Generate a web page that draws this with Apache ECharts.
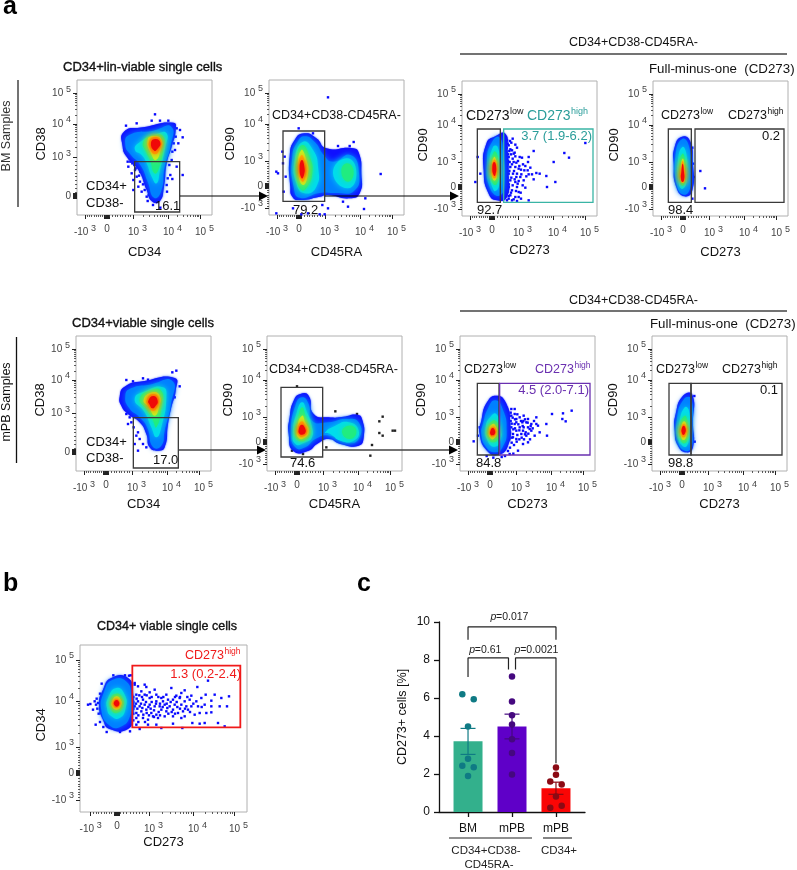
<!DOCTYPE html>
<html><head><meta charset="utf-8">
<style>html,body{margin:0;padding:0;background:#fff}#c{width:797px;height:870px}</style>
<script src="https://cdn.jsdelivr.net/npm/echarts@6/dist/echarts.min.js"></script>
</head><body><div id="c"></div>
<script>
// ---------- Flow data: channel scale 0-405 (panel b 0-501), contour level 0 (sparse) .. 6 (peak) ----------
const densityPalette = ['#1010ff','#0080ff','#00dcec','#20ec80','#c4f020','#ffa800','#f00808'];

const a1Contours = [
 [0,[[141,250],[199,263],[289,277],[296,255],[284,205],[269,155],[261,85],[247,40],[224,42],[209,75],[184,135],[149,175],[137,205]]],
 [1,[[156,240],[229,253],[283,265],[280,205],[263,145],[252,70],[231,52],[212,100],[190,150],[160,182],[145,210]]],
 [2,[[184,215],[239,243],[269,245],[264,200],[249,135],[239,95],[224,115],[209,155],[194,180],[174,195]]],
 [3,[[199,220],[234,240],[259,235],[259,200],[244,135],[232,125],[219,165],[209,185]]],
 [4,[[212,225],[234,237],[254,225],[251,195],[237,165],[224,180]]],
 [5,[[217,222],[234,234],[252,222],[248,198],[234,182],[220,198]]],
 [6,[[222,217],[236,228],[250,217],[243,200],[232,193]]]
];
const a1Events = [[154,145],[164,125],[169,105],[174,135],[179,115],[184,85],[189,100],[194,70],[199,125],[209,55],[169,75],[299,260],[309,255],[317,233],[304,215],[294,195],[284,165],[299,145],[317,120],[286,108],[234,302],[224,283],[249,283],[274,283],[147,268],[179,275],[160,160],[172,150],[182,150],[190,130],[205,100],[215,60],[228,30],[250,22],[270,70],[280,120],[158,170],[152,160],[166,155],[176,140],[186,118],[198,92],[203,75],[212,42],[296,235],[290,215],[286,190],[277,150],[272,110],[269,90]];

const a2Contours = [
 [0,[[64,85],[62,175],[77,225],[107,245],[142,230],[172,200],[252,200],[270,185],[277,125],[272,65],[242,50],[177,60],[152,55],[92,45],[70,55]]],
 [1,[[74,85],[70,175],[85,218],[107,236],[138,218],[164,180],[192,160],[245,180],[270,125],[255,72],[202,66],[152,66],[92,52]]],
 [2,[[82,95],[77,165],[102,220],[132,195],[147,145],[142,85],[107,65]]],
 [2,[[192,125],[232,170],[262,130],[237,80]]],
 [3,[[84,105],[82,165],[100,210],[122,175],[130,125],[112,80],[97,75]]],
 [3,[[217,130],[234,155],[254,130],[237,100]]],
 [4,[[87,135],[97,195],[112,165],[117,125],[102,90]]],
 [5,[[89,140],[98,180],[109,150],[110,120],[100,100]]],
 [6,[[92,145],[99,165],[106,145],[105,120],[98,110]]]
];
const a2Events = [[177,353],[89,260],[22,130],[27,125],[40,190],[47,175],[42,155],[50,115],[44,70],[132,245],[207,207],[242,207],[254,219],[335,123],[289,50],[285,18],[222,40],[237,25],[177,20],[160,30],[117,5],[72,20],[97,2],[152,2],[167,2],[22,5]];

const a3Contours = [
 [0,[[73,217],[100,239],[130,247],[137,197],[140,127],[135,57],[105,47],[80,67],[65,137]]],
 [1,[[75,167],[90,222],[112,236],[124,187],[128,107],[115,62],[85,82]]],
 [2,[[83,147],[93,207],[107,207],[113,147],[110,87],[95,77]]],
 [3,[[85,137],[95,192],[105,187],[109,137],[105,97],[93,97]]],
 [4,[[89,142],[96,177],[104,162],[105,127],[100,107],[92,112]]],
 [5,[[90,145],[96,169],[103,157],[102,117],[94,115]]],
 [6,[[91,147],[96,162],[102,152],[100,122],[95,122]]]
];
const a3Events = [[160,214],[165,205],[140,212],[150,197],[160,179],[140,177],[155,162],[145,147],[160,147],[140,127],[153,127],[165,127],[145,107],[160,102],[140,87],[150,77],[165,87],[145,62],[160,57],[140,52],[135,227],[137,157],[173,177],[180,175],[200,177],[215,195],[198,162],[177,139],[187,137],[197,137],[200,125],[193,119],[185,107],[210,125],[223,129],[233,127],[253,120],[255,87],[275,162],[307,189],[321,175],[370,219],[280,102],[177,52],[200,47],[170,57],[150,47],[135,47],[47,177],[40,102],[55,127],[167,97],[175,117],[163,117],[137,217],[155,187],[143,162],[137,97],[170,142],[134,205],[142,195],[148,220],[152,172],[147,185],[138,165],[158,190],[135,150],[150,155],[163,160],[142,135],[156,135],[136,115],[148,115],[158,110],[170,105],[140,95],[152,92],[162,75],[136,72],[147,70],[170,72],[155,50],[138,185],[144,225],[152,232],[132,235],[168,165],[172,150],[178,125],[182,92],[176,70],[190,85],[140,60],[165,45],[183,155],[205,145],[215,110],[190,150],[145,200]];

const a4Contours = [
 [0,[[65,207],[85,237],[110,227],[120,157],[118,77],[95,59],[70,87],[62,157]]],
 [1,[[68,187],[88,231],[107,212],[114,137],[112,85],[92,64],[72,92]]],
 [2,[[75,167],[88,207],[100,187],[102,127],[98,92],[85,82],[76,107]]],
 [3,[[78,147],[88,187],[97,167],[98,117],[92,92],[82,97]]],
 [4,[[82,137],[89,172],[95,147],[96,112],[90,99],[83,107]]],
 [5,[[83,132],[89,165],[94,137],[95,109],[89,100],[83,109]]],
 [6,[[85,132],[89,157],[93,132],[93,107],[88,102],[84,112]]]
];
const a4Events = [[142,135],[156,83],[118,205],[118,52],[120,157],[122,117]];

const a5Contours = [
 [0,[[131,223],[146,253],[201,269],[296,279],[299,241],[286,191],[276,141],[266,71],[246,61],[221,71],[211,111],[191,146],[156,171],[136,196]]],
 [1,[[148,225],[165,248],[221,259],[289,270],[285,201],[266,121],[256,76],[231,72],[214,130],[192,160],[160,188]]],
 [2,[[176,216],[211,241],[261,251],[271,221],[256,131],[241,101],[226,131],[206,176]]],
 [3,[[191,216],[221,241],[256,241],[256,191],[241,131],[229,156],[211,186]]],
 [4,[[203,213],[229,236],[251,226],[249,191],[236,166],[219,191]]],
 [5,[[212,213],[231,231],[248,218],[243,191],[231,180],[217,196]]],
 [6,[[217,211],[232,225],[245,211],[238,194],[229,188],[221,199]]]
];
const a5Events = [[151,273],[171,269],[201,278],[216,274],[151,171],[161,161],[156,141],[166,146],[173,131],[186,116],[181,106],[191,96],[176,81],[201,81],[186,61],[211,71],[301,301],[289,296],[311,254],[296,221],[276,273],[253,274]];

const a6Contours = [
 [0,[[80,211],[100,231],[125,226],[140,171],[185,161],[230,163],[270,169],[285,156],[290,101],[275,76],[220,81],[185,96],[150,81],[125,61],[80,59],[65,111],[68,161]]],
 [1,[[85,196],[105,221],[125,201],[135,151],[185,146],[235,156],[275,146],[275,96],[240,86],[190,106],[145,96],[115,71],[85,71],[73,121]]],
 [2,[[88,171],[105,206],[120,176],[135,131],[135,101],[115,86],[85,81],[78,121]]],
 [2,[[175,116],[205,136],[245,146],[275,121],[260,91],[220,91],[190,111]]],
 [3,[[90,146],[105,191],[118,156],[130,121],[120,96],[95,91],[83,116]]],
 [3,[[225,116],[245,136],[268,121],[250,96]]],
 [4,[[90,126],[105,166],[115,146],[125,121],[115,101],[95,99]]],
 [5,[[92,123],[104,149],[116,131],[120,116],[110,104],[97,106]]],
 [6,[[95,123],[104,139],[115,126],[114,113],[105,109],[98,111]]]
];
const a6Events = [[90,254],[205,179],[270,171],[178,71],[108,51],[75,61],[315,78],[310,46],[337,149],[347,163],[337,114],[347,106],[377,121],[384,121]];

const a7Contours = [
 [0,[[64,151],[81,206],[109,226],[137,206],[151,141],[144,76],[114,49],[81,61],[59,111]]],
 [1,[[69,141],[85,190],[106,212],[128,186],[140,121],[128,72],[106,56],[78,72],[64,111]]],
 [2,[[77,131],[94,166],[109,171],[121,131],[121,91],[104,73],[85,86]]],
 [3,[[81,121],[97,151],[111,146],[116,121],[114,96],[99,86],[86,96]]],
 [4,[[86,121],[98,141],[109,131],[111,116],[106,101],[94,96]]],
 [5,[[89,119],[98,133],[107,126],[107,111],[99,103],[91,106]]],
 [6,[[91,119],[98,129],[105,121],[104,111],[98,107],[92,109]]]
];
const a7Events = [[41,89],[59,131],[54,106],[154,186],[164,186],[154,166],[169,146],[179,161],[191,166],[204,156],[229,161],[214,141],[204,131],[189,121],[169,121],[159,111],[154,131],[164,141],[179,131],[191,131],[209,126],[199,106],[224,106],[239,116],[261,106],[259,141],[276,171],[309,173],[307,156],[317,149],[335,181],[189,81],[204,86],[149,51],[174,61],[159,101],[169,96],[184,111],[197,116],[214,121],[229,141],[234,136],[164,171],[169,156],[199,146],[187,146],[152,150],[158,160],[165,155],[172,170],[160,125],[150,115],[155,100],[165,128],[175,140],[183,150],[190,150],[178,122],[172,108],[185,100],[195,110],[205,112],[212,135],[218,128],[222,150],[195,155],[152,175],[148,95],[155,85],[150,70],[162,78],[170,88],[178,95],[192,95],[210,95],[188,135],[203,145],[155,142],[146,125],[148,165],[144,60],[135,45],[160,52],[125,42],[100,40],[80,45]];

const a8Contours = [
 [0,[[71,171],[93,226],[121,229],[123,141],[123,71],[103,56],[78,76],[68,121]]],
 [1,[[75,156],[96,216],[118,216],[119,121],[118,72],[100,60],[79,86]]],
 [2,[[81,141],[98,191],[111,181],[111,111],[105,76],[91,76],[79,101]]],
 [3,[[83,131],[98,166],[107,146],[108,106],[98,83],[85,96]]],
 [4,[[86,126],[96,149],[105,131],[104,106],[95,93],[87,103]]],
 [5,[[88,126],[95,141],[103,126],[101,109],[94,101],[88,109]]],
 [6,[[89,126],[95,136],[101,126],[99,113],[94,108],[90,113]]]
];
const a8Events = [[127,225],[128,88]];

const bContours = [
 [0,[[69,367],[94,402],[144,402],[159,357],[159,287],[144,249],[89,249],[69,277],[57,322]]],
 [1,[[72,360],[97,396],[138,392],[154,345],[150,287],[122,256],[88,260],[64,305]]],
 [2,[[84,342],[109,372],[134,352],[137,312],[119,282],[94,287],[81,312]]],
 [3,[[91,337],[109,355],[127,342],[129,317],[111,297],[94,307]]],
 [4,[[96,332],[109,347],[123,335],[123,319],[111,307],[97,315]]],
 [5,[[99,330],[109,340],[119,332],[120,320],[110,312],[100,319]]],
 [6,[[102,329],[110,336],[117,330],[117,321],[110,316],[103,321]]]
];
const bEvents = [[24,322],[31,324],[44,332],[39,307],[47,262],[54,327],[62,297],[164,382],[174,377],[194,382],[199,375],[184,362],[169,352],[194,352],[209,359],[224,367],[229,352],[244,342],[259,352],[274,372],[289,349],[304,357],[314,365],[334,349],[352,375],[377,352],[404,352],[424,342],[447,347],[384,394],[364,342],[349,332],[329,337],[314,332],[299,342],[279,337],[264,337],[249,332],[229,332],[209,342],[189,337],[174,332],[164,317],[179,317],[194,322],[209,322],[224,317],[239,317],[254,322],[269,317],[284,322],[304,322],[319,317],[334,317],[354,317],[374,322],[394,317],[419,317],[441,317],[394,334],[169,297],[184,302],[199,307],[214,297],[229,292],[244,307],[259,302],[279,307],[294,297],[309,302],[324,307],[344,292],[359,297],[379,297],[394,299],[169,282],[189,282],[204,277],[219,287],[234,282],[254,287],[279,287],[304,282],[314,287],[169,262],[204,262],[229,262],[279,265],[307,252],[337,267],[359,265],[374,267],[414,267],[434,257],[179,249],[244,252],[147,409],[164,387],[160,345],[170,340],[178,350],[186,345],[200,350],[215,345],[235,345],[250,345],[160,330],[168,325],[183,325],[198,330],[205,315],[215,330],[228,325],[240,325],[260,325],[272,330],[290,330],[160,310],[172,310],[187,312],[200,297],[212,310],[222,305],[236,300],[248,315],[262,312],[275,300],[292,315],[300,310],[315,310],[160,295],[175,290],[190,292],[207,290],[222,285],[240,290],[265,295],[285,295],[160,275],[175,270],[195,270],[300,345],[322,345],[340,325],[365,315],[330,300],[285,345],[50,340],[52,310],[48,322],[56,295],[60,355],[60,270],[65,385],[152,410],[135,410],[100,410],[70,255],[80,240],[120,240],[150,242]];

// gates: [x0, y0, x1, y1] in channel units
const a1Gates = [[173,9,308,160]];
const a2Gates = [[42,41,167,252]];
const a3Gates = [[46,41,115,261],[125,41,393,261]];
const a4Gates = [[46,41,115,261],[126,41,393,261]];
const a5Gates = [[172,9,307,160]];
const a6Gates = [[42,42,167,251]];
const a7Gates = [[52,48,117,263],[119,48,390,263]];
const a8Gates = [[51,48,117,263],[117,48,390,263]];
const bGates  = [[157,254,481,439]];

// biexponential tick positions in channel units: -10^3, 0, 10^3, 10^4, 10^5
const xTickChannels = [24,90,168,273,369];
const yTickChannels = [21,87,162,273,366];
const yTickChannelsCD38 = [null,57,173,273,365];
const bxTickChannels = [32,111,207,339,462];
const byTickChannels = [36,117,195,333,456];
const xTickLabels = ['-10 {s|3}','0','{sp|}10 {s|3}','{sp|}10 {s|4}','{sp|}10 {s|5}'];
const yTickLabels = ['-10 {s|3}','0','10 {s|3}','10 {s|4}','10 {s|5}'];

// ---------- Panel c data ----------
const barCenters = [1,2,3];
const barNames = ['BM','mPB','mPB'];
const barValues = [3.72,4.5,1.25];
const barLow = [3.03,3.85,0.93];
const barHigh = [4.4,5.15,1.57];
const barColors = ['#33b08c','#5f00c8','#fa0505'];
const dotColors = ['#0f7a84','#45087f','#8b0a14'];
const bmDots = [[0.87,6.2],[1.13,5.93],[1,4.5],[1,2.8],[0.87,2.43],[1.13,2.36],[1,1.9]];
const mpbDots = [[2,7.13],[2,5.82],[2,5.09],[2,4.6],[2,3.83],[2,3.11],[2,1.98]];
const cd34Dots = [[3,2.34],[3,1.96],[2.87,1.61],[3.13,1.45],[3,0.82],[2.87,0.23],[3.13,0.33]];
const bracketTop = [[1,9.07],[1,9.74],[3,9.74],[3,9.07]];
const bracketLeft = [[1,7.1],[1,8.11],[1.92,8.11],[1.92,7.5]];
const bracketRight = [[2.08,7.5],[2.08,8.11],[3,8.11],[3,2.57]];

// ---------- Helpers ----------
const FONT = '"Liberation Sans", Arial, Helvetica, sans-serif';
const grid = [], xAxis = [], yAxis = [], series = [], graphic = [];

function axisTicks(p, near){
  const minor = [], major = [];
  const [n,z,e3,e4,e5] = p;
  if (n !== null) for (let k=1;k<10;k++) minor.push(n+(z-n)*k/10);
  for (let k=1;k<10;k++) minor.push(z+(e3-z)*k/10);
  for (let k=2;k<10;k++){ minor.push(e3+(e4-e3)*Math.log10(k)); minor.push(e4+(e5-e4)*Math.log10(k)); }
  p.forEach(v=>{ if(v!==null) major.push(v); });
  for (let k=-near;k<=near;k+=2) major.push(z+k);
  return {minor, major};
}
function flowAxis(ch, labels, max, name, isY, gridIndex, gap){
  const valid = ch.filter(v=>v!==null);
  const t = axisTicks(ch, 7);
  const common = {type:'value', gridIndex, min:0, max, splitLine:{show:false}, axisLine:{show:false}, silent:true, position:isY?'left':'bottom'};
  const main = Object.assign({}, common, {
    name, nameLocation:'middle', nameGap:gap,
    nameTextStyle:{fontFamily:FONT,fontSize:13,color:'#111',padding:isY?[0,0,0,7]:0},
    axisTick:{show:true,length:4,customValues:t.major,lineStyle:{color:'#222',width:1}},
    axisLabel:{show:true,customValues:valid,margin:isY?6:9,fontFamily:FONT,fontSize:10,color:'#444',hideOverlap:false,
      formatter:v=>labels[ch.indexOf(v)],
      rich:{s:{fontFamily:FONT,fontSize:9,color:'#444',padding:[0,0,8,0]},sp:{width:9}}}
  });
  const minor = Object.assign({}, common, {
    axisTick:{show:true,length:2,customValues:t.minor,lineStyle:{color:'#333',width:0.8}},
    axisLabel:{show:false}
  });
  return [main, minor];
}
function flowPlot(rect, scale, xt, yt, xName, yName, xGap, yGap, contours, events, gates, gateColors, dotColor, gateWidth){
  const g = grid.length;
  grid.push({left:rect[0],top:rect[1],width:rect[2],height:rect[3],show:true,borderColor:'#b0b0b0',borderWidth:1,backgroundColor:'#fff'});
  const xi = xAxis.length, yi = yAxis.length;
  flowAxis(xt, xTickLabels, scale, xName, false, g, xGap).forEach(a=>xAxis.push(a));
  flowAxis(yt, yTickLabels, scale, yName, true, g, yGap).forEach(a=>yAxis.push(a));
  series.push({type:'scatter',xAxisIndex:xi,yAxisIndex:yi,data:events,symbol:'rect',symbolSize:2.4,
    itemStyle:{color:dotColor||'#0808ff',opacity:1},silent:true,z:2,animation:false});
  series.push({type:'custom',xAxisIndex:xi,yAxisIndex:yi,z:3,silent:true,animation:false,clip:true,
    data:contours.map(c=>[c[1][0][0],c[1][0][1]]),encode:{x:0,y:1},
    renderItem:(params,api)=>{
      const c = contours[params.dataIndex], col = densityPalette[c[0]];
      return {type:'polygon',shape:{points:c[1].map(p=>api.coord(p)),smooth:0.55},
        style:{fill:col,shadowBlur:c[0]===0?1.5:6,shadowColor:col}};
    }});
  series.push({type:'custom',xAxisIndex:xi,yAxisIndex:yi,z:4,silent:true,animation:false,clip:false,
    data:gates.map(c=>[c[0],c[1]]),encode:{x:0,y:1},
    renderItem:(params,api)=>{
      const r = gates[params.dataIndex];
      const a = api.coord([r[0],r[3]]), b = api.coord([r[2],r[1]]);
      return {type:'rect',shape:{x:a[0],y:a[1],width:b[0]-a[0],height:b[1]-a[1]},
        style:{fill:null,stroke:gateColors[params.dataIndex],lineWidth:gateWidth||1.3}};
    }});
}
function txt(text,x,y,o){ o=o||{};
  graphic.push({type:'text',x,y,rotation:o.rot||0,silent:true,z:20,style:{text,
    fill:o.color||'#111',font:(o.weight?o.weight+' ':'')+(o.italic?'italic ':'')+(o.size||12.5)+'px '+FONT,
    align:o.align||'left',verticalAlign:'middle',stroke:o.stroke?(o.color||'#111'):null,lineWidth:o.stroke||0}});
}
function cd273(x,y,supText,o){ o=o||{}; const sz=o.size||12.5;
  txt('CD273',x,y,{color:o.color,size:sz});
  txt(supText,x+sz*3.112+0.5,y-4.5,{color:o.color,size:o.sup||8.5});
}
function line(x1,y1,x2,y2,color,w){
  graphic.push({type:'line',silent:true,z:19,shape:{x1,y1,x2,y2},style:{stroke:color,lineWidth:w}});
}
function arrow(x1,x2,y,color,w){
  line(x1,y,x2-7,y,color,w);
  graphic.push({type:'polygon',silent:true,z:19,shape:{points:[[x2-9,y-4.5],[x2,y],[x2-9,y+4.5]]},style:{fill:'#000'}});
}

// ---------- Flow plots ----------
const GATE='#3a3a3a';
flowPlot([77,80,135,135],405,xTickChannels,yTickChannelsCD38,'CD34','CD38',31,29,a1Contours,a1Events,a1Gates,[GATE]);
flowPlot([269,80,135,135],405,xTickChannels,yTickChannels,'CD45RA','CD90',31,24,a2Contours,a2Events,a2Gates,[GATE]);
flowPlot([462,81,135,135],405,xTickChannels,yTickChannels,'CD273','CD90',28,26,a3Contours,a3Events,a3Gates,[GATE,'#3ab5a5']);
flowPlot([653,81,135,135],405,xTickChannels,yTickChannels,'CD273','CD90',30,25,a4Contours,a4Events,a4Gates,[GATE,GATE]);
flowPlot([76,336,135,135],405,xTickChannels,yTickChannelsCD38,'CD34','CD38',27,29,a5Contours,a5Events,a5Gates,[GATE]);
flowPlot([267,336,135,135],405,xTickChannels,yTickChannels,'CD45RA','CD90',27,27,a6Contours,a6Events,a6Gates,[GATE],'#222');
flowPlot([460,336,135,135],405,xTickChannels,yTickChannels,'CD273','CD90',27,26,a7Contours,a7Events,a7Gates,[GATE,'#6a30b0']);
flowPlot([652,336,135,135],405,xTickChannels,yTickChannels,'CD273','CD90',27,26,a8Contours,a8Events,a8Gates,[GATE,GATE]);
flowPlot([80,645,167,167],501,bxTickChannels,byTickChannels,'CD273','CD34',24,26,bContours,bEvents,bGates,['#f01a1a'],null,1.8);

// ---------- Panel c ----------
const cg = grid.length;
grid.push({left:439,top:622,width:146,height:190,show:false});
const cx = xAxis.length, cy = yAxis.length;
xAxis.push({type:'value',gridIndex:cg,min:0.34,max:3.66,splitLine:{show:false},
  axisLine:{show:true,onZero:false,lineStyle:{color:'#111',width:1.3}},
  axisTick:{show:true,length:5,customValues:barCenters,lineStyle:{color:'#111',width:1.3}},
  axisLabel:{customValues:barCenters,margin:11,fontFamily:FONT,fontSize:12,color:'#111',formatter:v=>barNames[barCenters.indexOf(v)]}});
yAxis.push({type:'value',gridIndex:cg,min:0,max:10,interval:2,splitLine:{show:false},
  name:'CD273+ cells [%]',nameLocation:'middle',nameGap:30,nameTextStyle:{fontFamily:FONT,fontSize:12.5,color:'#111'},
  axisLine:{show:true,lineStyle:{color:'#111',width:1.3}},
  axisTick:{show:true,length:5,lineStyle:{color:'#111',width:1.3}},
  axisLabel:{margin:9,fontFamily:FONT,fontSize:12,color:'#111'}});
series.push({type:'bar',xAxisIndex:cx,yAxisIndex:cy,barWidth:29,silent:true,animation:false,z:2,
  data:barValues.map((v,i)=>({value:[barCenters[i],v],itemStyle:{color:barColors[i]}}))});
series.push({type:'custom',xAxisIndex:cx,yAxisIndex:cy,silent:true,animation:false,z:4,
  data:barCenters.map((c,i)=>[c,barLow[i],barHigh[i]]),encode:{x:0,y:[1,2]},
  renderItem:(p,api)=>{
    const c=api.value(0), lo=api.coord([c,api.value(1)]), hi=api.coord([c,api.value(2)]), s={stroke:dotColors[p.dataIndex],lineWidth:1.2};
    return {type:'group',children:[
      {type:'line',shape:{x1:lo[0],y1:lo[1],x2:hi[0],y2:hi[1]},style:s},
      {type:'line',shape:{x1:lo[0]-7.5,y1:lo[1],x2:lo[0]+7.5,y2:lo[1]},style:s},
      {type:'line',shape:{x1:hi[0]-7.5,y1:hi[1],x2:hi[0]+7.5,y2:hi[1]},style:s}]};
  }});
[bmDots,mpbDots,cd34Dots].forEach((d,i)=>series.push({type:'scatter',xAxisIndex:cx,yAxisIndex:cy,data:d,symbolSize:6.5,
  itemStyle:{color:dotColors[i],opacity:1},silent:true,animation:false,z:5}));
[bracketTop,bracketLeft,bracketRight].forEach(d=>series.push({type:'line',xAxisIndex:cx,yAxisIndex:cy,data:d,showSymbol:false,
  lineStyle:{color:'#222',width:1.2},silent:true,animation:false,z:3,clip:false}));

// ---------- Annotation text ----------
txt('a',3,7,{size:25,weight:'bold',color:'#000'});
txt('b',3,584,{size:25,weight:'bold',color:'#000'});
txt('c',357,584,{size:25,weight:'bold',color:'#000'});

txt('CD34+lin-viable single cells',63,67,{stroke:0.35,size:13});
txt('CD34+viable single cells',72,323,{stroke:0.35,size:13});
txt('CD34+ viable single cells',97,627,{stroke:0.35,size:12.5});

txt('BM Samples',7,136,{rot:Math.PI/2,align:'center',size:12.5,color:'#333'});
txt('mPB Samples',6.5,402,{rot:Math.PI/2,align:'center',size:12.5});
line(18,80,18,207,'#444',1.5);
line(16.5,337,16.5,463,'#111',1.3);

txt('CD34+CD38-CD45RA-',633.5,43,{align:'center',size:12.5});
line(460,54,787,54,'#444',1.4);
txt('CD34+CD38-CD45RA-',633.5,301,{align:'center',size:12.5});
line(460,311,787,311,'#444',1.4);
txt('Full-minus-one  (CD273)',649,69,{size:13.3});
txt('Full-minus-one  (CD273)',650,324,{size:13.3});

txt('CD34+CD38-CD45RA-',272,116,{size:12.5});
txt('CD34+CD38-CD45RA-',269,370,{size:12.5});
txt('CD34+',86,186,{size:13}); txt('CD38-',86,203,{size:13}); txt('16.1',155,206,{size:13});
txt('CD34+',86,442,{size:13}); txt('CD38-',86,458,{size:13}); txt('17.0',153,460,{size:13});
txt('79.2',293,210,{size:13}); txt('74.6',290,463,{size:13});

cd273(466,116,'low',{size:14,sup:9});
cd273(527,116,'high',{size:14,sup:9,color:'#2a9d9a'});
txt('3.7 (1.9-6.2)',592,136,{align:'right',color:'#2a9d9a',size:13});
txt('92.7',477,210,{size:13});
cd273(661,116,'low'); cd273(728,116,'high');
txt('0.2',780,136,{align:'right',size:13});
txt('98.4',668,210,{size:13});
cd273(464,370,'low');
cd273(535,370,'high',{color:'#6a30b0'});
txt('4.5 (2.0-7.1)',589,390,{align:'right',color:'#6a30b0',size:13});
txt('84.8',476,463,{size:13});
cd273(656,370,'low'); cd273(722,370,'high');
txt('0.1',778,390,{align:'right',size:13});
txt('98.8',668,463,{size:13});
cd273(185,656,'high',{color:'#f01a1a'});
txt('1.3 (0.2-2.4)',241,674,{align:'right',color:'#f01a1a',size:13});

arrow(180,268,196,'#000',1.2);
arrow(325,459,196,'#000',1.2);
arrow(179,266,450,'#444',1.6);
arrow(322,458,450,'#444',1.6);

// panel c annotation
function pval(text,cxp,y){
  txt('p',cxp-(text.length*5.6+5.6)/2,y,{size:10.5,italic:true,color:'#222'});
  txt(text,cxp-(text.length*5.6+5.6)/2+5.6,y,{size:10.5,color:'#222'});
}
pval('=0.017',510,617);
pval('=0.61',486,650);
pval('=0.0021',537,650);
line(449,838,532,838,'#222',1.1);
line(543,838,572,838,'#222',1.1);
txt('CD34+CD38-',486,851,{align:'center',size:11.5,color:'#222'});
txt('CD45RA-',489,865,{align:'center',size:11.5,color:'#222'});
txt('CD34+',559,851,{align:'center',size:11.5,color:'#222'});

const chart = echarts.init(document.getElementById('c'),null,{renderer:'canvas'});
chart.setOption({animation:false,backgroundColor:'#fff',textStyle:{fontFamily:FONT},grid,xAxis,yAxis,series,graphic:{elements:graphic}});
</script></body></html>
